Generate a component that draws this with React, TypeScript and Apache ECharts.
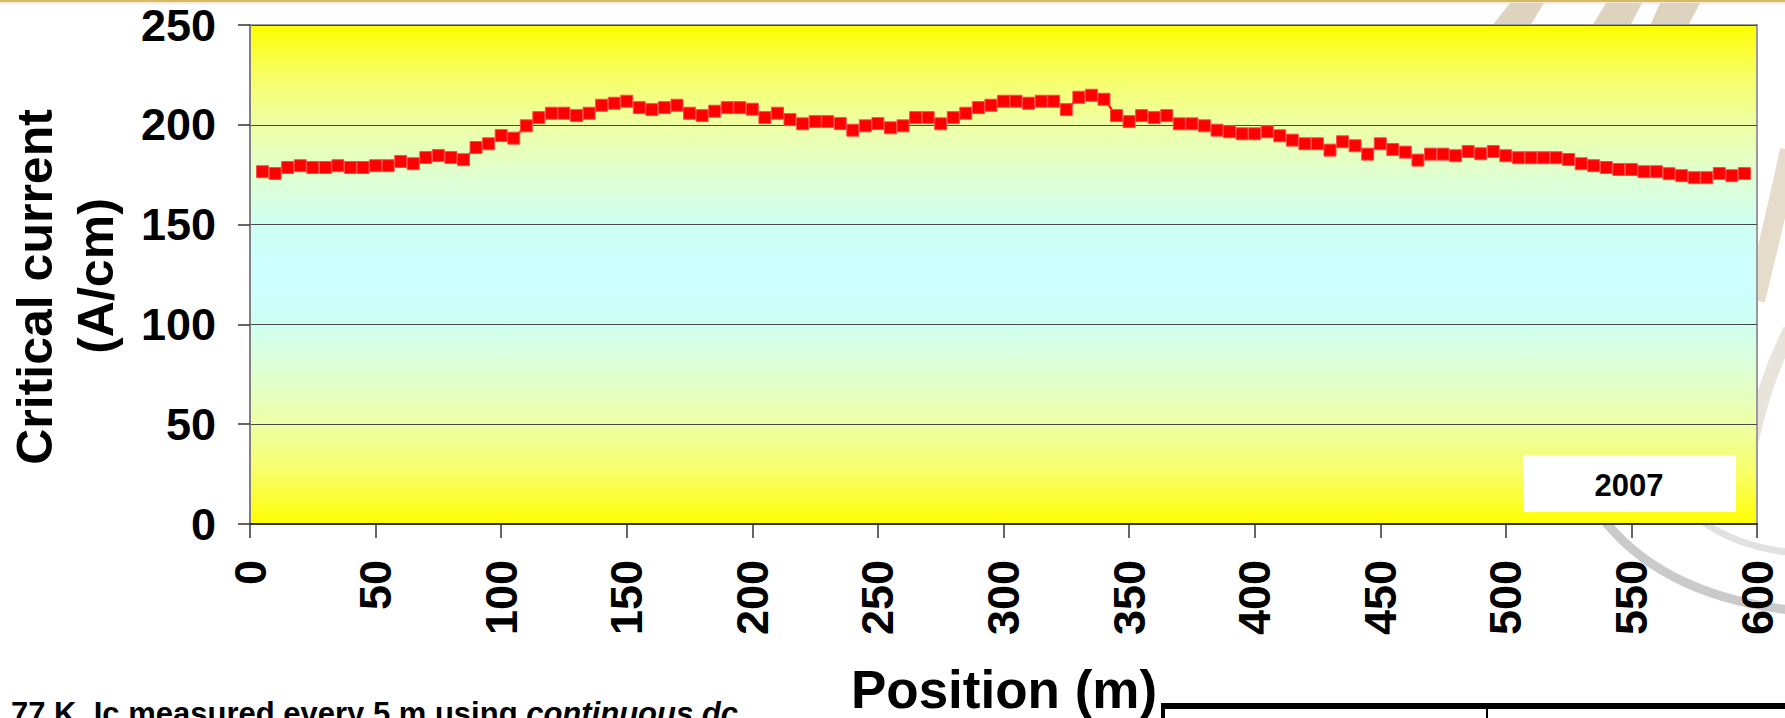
import React, { useEffect, useRef } from "react";
import * as echarts from "echarts";

const positions: number[] = [
  5, 10, 15, 20, 25, 30, 35, 40, 45, 50, 55, 60, 65, 70, 75, 80, 85, 90, 95, 100,
  105, 110, 115, 120, 125, 130, 135, 140, 145, 150, 155, 160, 165, 170, 175, 180, 185, 190, 195, 200,
  205, 210, 215, 220, 225, 230, 235, 240, 245, 250, 255, 260, 265, 270, 275, 280, 285, 290, 295, 300,
  305, 310, 315, 320, 325, 330, 335, 340, 345, 350, 355, 360, 365, 370, 375, 380, 385, 390, 395, 400,
  405, 410, 415, 420, 425, 430, 435, 440, 445, 450, 455, 460, 465, 470, 475, 480, 485, 490, 495, 500,
  505, 510, 515, 520, 525, 530, 535, 540, 545, 550, 555, 560, 565, 570, 575, 580, 585, 590, 595,
];

const criticalCurrent: number[] = [
  176.5, 175.6, 178.6, 179.5, 178.6, 178.6, 179.5, 178.6, 178.6, 179.5, 179.5, 181.6, 180.5, 183.6, 184.6, 183.6, 182.5, 188.6, 190.5, 194.6,
  193.3, 199.5, 203.6, 205.8, 205.8, 204.6, 205.8, 209.8, 210.8, 211.8, 208.6, 207.6, 208.6, 209.8, 205.8, 204.6, 206.8, 208.6, 208.6, 207.8,
  203.6, 205.8, 202.6, 200.5, 201.6, 201.6, 200.6, 197.3, 199.5, 200.6, 198.5, 199.5, 203.6, 203.6, 200.5, 203.6, 205.8, 208.6, 209.8, 211.8,
  211.8, 210.8, 211.8, 211.8, 207.6, 213.8, 214.8, 212.8, 204.6, 201.6, 204.6, 203.6, 204.6, 200.5, 200.5, 199.5, 197.3, 196.5, 195.5, 195.5,
  196.5, 194.5, 192.3, 190.5, 190.5, 187.3, 191.5, 189.5, 185.3, 190.5, 187.6, 186.3, 182.3, 185.3, 185.3, 184.5, 186.6, 185.5, 186.6, 184.5,
  183.5, 183.5, 183.5, 183.5, 182.6, 180.5, 179.5, 178.6, 177.6, 177.6, 176.5, 176.5, 175.5, 174.5, 173.5, 173.5, 175.6, 174.5, 175.6,
];

const yTitleLines: string[] = ["Critical current", "(A/cm)"];
const xTitle = "Position (m)";
const yearLabel = "2007";
const noteText = "77 K, Ic measured every 5 m using ";
const noteItalic = "continuous dc";

const FONT = '"Liberation Sans", Arial, Helvetica, sans-serif';

export default function App() {
  const ref = useRef<HTMLDivElement>(null);

  useEffect(() => {
    if (!ref.current) return;
    const chart = echarts.init(ref.current, undefined, { renderer: "svg" });
    const seriesData = positions.map((p, i) => [p, criticalCurrent[i]]);

    const tan = "rgba(190,168,125,0.5)";
    const option: any = {
      animation: false,
      backgroundColor: "#ffffff",
      grid: {
        left: 250,
        right: 28,
        top: 25,
        bottom: 194,
        show: true,
        z: 1,
        borderColor: "#9a9a9a",
        borderWidth: 2,
        backgroundColor: {
          type: "linear",
          x: 0,
          y: 0,
          x2: 0,
          y2: 1,
          colorStops: [
            { offset: 0, color: "rgb(255,255,0)" },
            { offset: 0.1, color: "rgb(248,255,100)" },
            { offset: 0.2, color: "rgb(238,255,165)" },
            { offset: 0.31, color: "rgb(222,255,212)" },
            { offset: 0.41, color: "rgb(206,255,245)" },
            { offset: 0.5, color: "rgb(204,255,255)" },
            { offset: 0.59, color: "rgb(206,255,245)" },
            { offset: 0.69, color: "rgb(222,255,212)" },
            { offset: 0.8, color: "rgb(238,255,165)" },
            { offset: 0.9, color: "rgb(248,255,100)" },
            { offset: 1, color: "rgb(255,255,0)" },
          ],
        },
      },
      xAxis: {
        type: "value",
        min: 0,
        max: 600,
        interval: 50,
        z: 2,
        axisLine: { show: true, onZero: false, lineStyle: { color: "#333333", width: 2 } },
        axisTick: { show: true, length: 14, lineStyle: { color: "#333333", width: 1.5 } },
        axisLabel: {
          rotate: 90,
          fontSize: 45,
          fontWeight: "bold",
          fontFamily: FONT,
          color: "#000000",
          margin: 36,
        },
        splitLine: { show: false },
      },
      yAxis: {
        type: "value",
        min: 0,
        max: 250,
        interval: 50,
        z: 2,
        axisLine: { show: true, lineStyle: { color: "#808080", width: 2 } },
        axisTick: { show: true, length: 12, lineStyle: { color: "#333333", width: 1.5 } },
        axisLabel: {
          fontSize: 45,
          fontWeight: "bold",
          fontFamily: FONT,
          color: "#000000",
          margin: 34,
        },
        splitLine: { show: true, lineStyle: { color: "#4a4a4a", width: 1.2 } },
      },
      series: [
        {
          type: "line",
          data: seriesData,
          z: 5,
          symbol: "rect",
          symbolSize: 12,
          showSymbol: true,
          lineStyle: { color: "#ff0000", width: 2 },
          itemStyle: { color: "#ff0000", borderColor: "#ff4a4a", borderWidth: 1 },
        },
      ],
      graphic: [
        // top gold rule
        { type: "rect", z: -5, shape: { x: 0, y: 0, width: 1785, height: 2 }, style: { fill: "#d8b862" } },
        { type: "rect", z: -5, shape: { x: 0, y: 2, width: 1785, height: 2 }, style: { fill: "rgba(230,210,150,0.4)" } },
        // decorative brush strokes (background)
        { type: "polygon", z: -10, shape: { points: [[1492, 26], [1510, 3], [1544, 3], [1530, 26]] }, style: { fill: tan } },
        { type: "polygon", z: -10, shape: { points: [[1592, 26], [1606, 3], [1642, 3], [1630, 26]] }, style: { fill: tan } },
        { type: "polygon", z: -10, shape: { points: [[1650, 26], [1660, 3], [1700, 3], [1688, 26]] }, style: { fill: tan } },
        { type: "bezierCurve", z: -10, shape: { x1: 1790, y1: 150, x2: 1755, y2: 300, cpx1: 1775, cpy1: 220 }, style: { stroke: "rgba(190,168,125,0.4)", lineWidth: 20, fill: "none" } },
        { type: "bezierCurve", z: -10, shape: { x1: 1790, y1: 330, x2: 1752, y2: 440, cpx1: 1765, cpy1: 380 }, style: { stroke: "rgba(180,165,140,0.3)", lineWidth: 14, fill: "none" } },
        { type: "bezierCurve", z: -10, shape: { x1: 1600, y1: 515, x2: 1790, y2: 610, cpx1: 1660, cpy1: 595 }, style: { stroke: "rgba(150,150,150,0.5)", lineWidth: 9, fill: "none" } },
        { type: "bezierCurve", z: -10, shape: { x1: 1700, y1: 520, x2: 1790, y2: 552, cpx1: 1740, cpy1: 548 }, style: { stroke: "rgba(170,170,170,0.35)", lineWidth: 7, fill: "none" } },
        // y-axis title
        {
          type: "text",
          z: 10,
          x: 35,
          y: 287,
          rotation: Math.PI / 2,
          style: { text: yTitleLines[0], fontSize: 50, fontWeight: "bold", fontFamily: FONT, fill: "#000", align: "center", verticalAlign: "middle" },
        },
        {
          type: "text",
          z: 10,
          x: 96,
          y: 276,
          rotation: Math.PI / 2,
          style: { text: yTitleLines[1], fontSize: 50, fontWeight: "bold", fontFamily: FONT, fill: "#000", align: "center", verticalAlign: "middle" },
        },
        // x-axis title
        {
          type: "text",
          z: 10,
          x: 1004,
          y: 689,
          style: { text: xTitle, fontSize: 53, fontWeight: "bold", fontFamily: FONT, fill: "#000", align: "center", verticalAlign: "middle" },
        },
        // year box
        { type: "rect", z: 10, shape: { x: 1523, y: 455, width: 213, height: 57 }, style: { fill: "#ffffff" } },
        {
          type: "text",
          z: 11,
          x: 1629,
          y: 485,
          style: { text: yearLabel, fontSize: 31, fontWeight: "bold", fontFamily: FONT, fill: "#000", align: "center", verticalAlign: "middle" },
        },
        // bottom note (cut off by the page edge, as in the source slide)
        {
          type: "text",
          z: 10,
          x: 11,
          y: 729,
          style: {
            text: "{a|" + noteText + "}{b|" + noteItalic + "}",
            fontSize: 31,
            fontWeight: "bold",
            fontFamily: FONT,
            fill: "#000",
            align: "left",
            verticalAlign: "bottom",
            rich: {
              a: { fontSize: 31, fontWeight: "bold", fontFamily: FONT, fill: "#000" },
              b: { fontSize: 31, fontWeight: "bold", fontStyle: "italic", fontFamily: FONT, fill: "#000" },
            },
          },
        },
        // bottom-right table edge
        { type: "rect", z: 10, shape: { x: 1161, y: 703, width: 624, height: 6 }, style: { fill: "#000" } },
        { type: "rect", z: 10, shape: { x: 1161, y: 703, width: 4, height: 15 }, style: { fill: "#000" } },
        { type: "rect", z: 10, shape: { x: 1486, y: 706, width: 2, height: 12 }, style: { fill: "#000" } },
      ],
    };

    chart.setOption(option);
    return () => chart.dispose();
  }, []);

  return (
    <div
      ref={ref}
      style={{ position: "absolute", left: 0, top: 0, width: 1785, height: 718, background: "#fff" }}
    />
  );
}
